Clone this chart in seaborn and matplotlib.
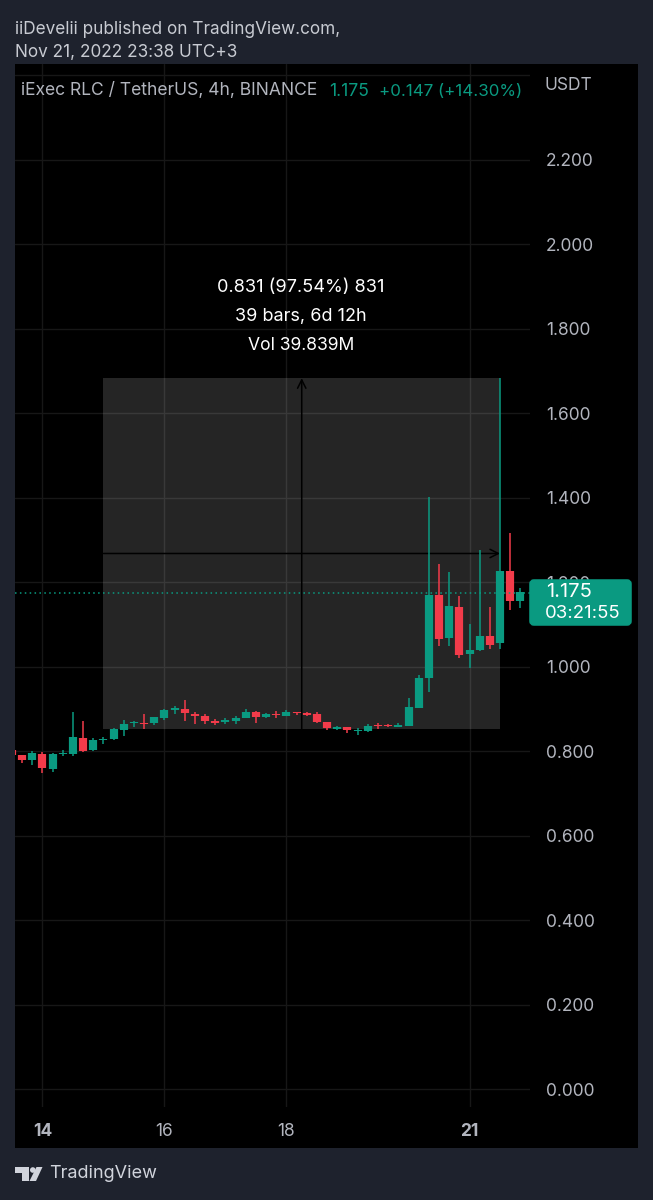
import pandas as pd
import matplotlib
matplotlib.use('Agg')
import matplotlib.pyplot as plt
from matplotlib.patches import Rectangle, FancyBboxPatch, Polygon, Circle
import seaborn as sns

# Candle values (4h bars)
open_ = [0.803, 0.790, 0.778, 0.793, 0.758, 0.793, 0.794, 0.831, 0.803, 0.826, 0.828, 0.849, 0.866,
         0.867, 0.866, 0.879, 0.898, 0.900, 0.889, 0.883, 0.872, 0.870, 0.871, 0.879, 0.892, 0.882,
         0.888, 0.884, 0.892, 0.890, 0.888, 0.869, 0.852, 0.856, 0.847, 0.848, 0.863, 0.863, 0.858,
         0.860, 0.903, 0.972, 1.170, 1.067, 1.142, 1.029, 1.039, 1.073, 1.056, 1.227, 1.156]
high = [0.805, 0.792, 0.801, 0.798, 0.796, 0.803, 0.892, 0.872, 0.830, 0.834, 0.855, 0.873, 0.872,
        0.889, 0.882, 0.899, 0.907, 0.920, 0.893, 0.888, 0.875, 0.879, 0.883, 0.899, 0.894, 0.891,
        0.894, 0.897, 0.893, 0.892, 0.892, 0.870, 0.860, 0.856, 0.854, 0.864, 0.867, 0.865, 0.867,
        0.925, 0.981, 1.401, 1.244, 1.225, 1.168, 1.101, 1.276, 1.141, 1.683, 1.316, 1.186]
low = [0.788, 0.772, 0.767, 0.749, 0.751, 0.788, 0.789, 0.798, 0.800, 0.816, 0.826, 0.837, 0.856,
       0.852, 0.861, 0.874, 0.889, 0.872, 0.864, 0.865, 0.862, 0.865, 0.864, 0.878, 0.866, 0.879,
       0.879, 0.883, 0.886, 0.884, 0.866, 0.849, 0.850, 0.844, 0.838, 0.846, 0.852, 0.856, 0.856,
       0.859, 0.902, 0.941, 1.050, 1.050, 1.021, 0.996, 1.038, 1.041, 1.041, 1.134, 1.138]
close = [0.790, 0.779, 0.795, 0.760, 0.794, 0.796, 0.834, 0.800, 0.827, 0.828, 0.852, 0.864, 0.869,
         0.865, 0.880, 0.897, 0.901, 0.890, 0.884, 0.872, 0.867, 0.873, 0.879, 0.893, 0.880, 0.888,
         0.885, 0.893, 0.890, 0.886, 0.870, 0.854, 0.856, 0.849, 0.851, 0.860, 0.860, 0.860, 0.862,
         0.904, 0.973, 1.170, 1.065, 1.144, 1.027, 1.039, 1.073, 1.052, 1.227, 1.156, 1.176]

y_ticks = [0.0, 0.2, 0.4, 0.6, 0.8, 1.0, 1.2, 1.4, 1.6, 1.8, 2.0, 2.2, 2.4]
y_labels = ['0.000', '0.200', '0.400', '0.600', '0.800', '1.000', '1.200', '1.400', '1.600',
            '1.800', '2.000', '2.200', '']
x_ticks = [3, 15, 27, 45]
x_labels = ['14', '16', '18', '21']
x_bold = ['14', '21']

last_price = 1.175
range_low, range_high = 0.852, 1.683
range_start, range_end = 9, 48
range_mid = 28.5
arrow_price = 1.268

BG = '#1e222d'
GREEN = '#0a9a81'
RED = '#f23b4a'
TXT = '#b2b5be'
W, H = 653, 1200

sns.set_theme(style='dark')
plt.rcParams['font.family'] = ['Inter', 'DejaVu Sans']

df = pd.DataFrame({'i': range(len(close)), 'open': open_, 'high': high, 'low': low, 'close': close})
df['dir'] = ['up' if c >= o else 'down' for o, c in zip(df['open'], df['close'])]
wicks = df.melt(id_vars=['i', 'dir'], value_vars=['high', 'low'], value_name='price')
bodies = df.melt(id_vars=['i', 'dir'], value_vars=['open', 'close'], value_name='price')
palette = {'up': GREEN, 'down': RED}

fig = plt.figure(figsize=(W / 100, H / 100), dpi=100, facecolor=BG)
fig.add_artist(Rectangle((15 / W, 1 - 1148 / H), 623 / W, 1084 / H, transform=fig.transFigure,
                         color='black', lw=0, zorder=-1))

# chart pane, limits worked out so the bars line up with the pixel grid of the original
ax = fig.add_axes([15 / W, 1 - 1107 / H, 515 / W, 1043 / H], facecolor='none')

ax.add_patch(Rectangle((range_start, range_low), range_end - range_start, range_high - range_low,
                       color='white', alpha=0.15, lw=0, zorder=1))
ax.annotate('', xy=(range_mid, range_high), xytext=(range_mid, range_low), zorder=2,
            arrowprops=dict(arrowstyle='->', color='black', lw=1.1, shrinkA=0, shrinkB=0, mutation_scale=15))
ax.annotate('', xy=(range_end, arrow_price), xytext=(range_start, arrow_price), zorder=2,
            arrowprops=dict(arrowstyle='->', color='black', lw=1.1, shrinkA=0, shrinkB=0, mutation_scale=15))

sns.lineplot(data=wicks, x='i', y='price', units='i', estimator=None, hue='dir', palette=palette,
             legend=False, linewidth=1.1, solid_capstyle='butt', zorder=3, ax=ax)
sns.lineplot(data=bodies, x='i', y='price', units='i', estimator=None, hue='dir', palette=palette,
             legend=False, linewidth=5.9, solid_capstyle='butt', zorder=4, ax=ax)
ax.axhline(last_price, color=GREEN, lw=1.1, ls=(0, (1, 2.2)), zorder=5)

ax.set_xlim(0.306, 50.945)
ax.set_ylim(-0.0426, 2.427)
ax.set_xlabel('')
ax.set_ylabel('')
for s in ax.spines.values():
    s.set_visible(False)

ax.yaxis.tick_right()
ax.set_yticks(y_ticks)
ax.set_yticklabels(y_labels)
ax.set_xticks(x_ticks)
ax.set_xticklabels(x_labels)
ax.tick_params(axis='y', length=0, pad=11.5, labelsize=12.5, labelcolor=TXT)
ax.tick_params(axis='x', length=0, pad=11.5, labelsize=12.5, labelcolor=TXT)
for t in ax.get_xticklabels():
    if t.get_text() in x_bold:
        t.set_fontweight('bold')
ax.grid(True, color='#171717', lw=1.0)
ax.set_axisbelow(True)

# overlay in pixel coordinates for header, box, logo
ov = fig.add_axes([0, 0, 1, 1], facecolor='none', zorder=5)
ov.set_xlim(0, W)
ov.set_ylim(H, 0)
ov.axis('off')

ov.text(15, 29, 'iiDevelii published on TradingView.com,', color='#c8cbd2', fontsize=12.35, va='center')
ov.text(15, 53, 'Nov 21, 2022 23:38 UTC+3', color='#c8cbd2', fontsize=12.35, va='center')
ov.text(21, 91, 'iExec RLC / TetherUS, 4h, BINANCE', color=TXT, fontsize=12.6, va='center')
ov.text(329, 91, '1.175', color=GREEN, fontsize=12.6, va='center')
ov.text(379, 91, '+0.147 (+14.30%)', color=GREEN, fontsize=12.2, va='center')
ov.text(545, 85, 'USDT', color=TXT, fontsize=12.5, va='center')

ov.text(301, 288, '0.831 (97.54%) 831', color='white', fontsize=13.1, ha='center', va='center')
ov.text(301, 317, '39 bars, 6d 12h', color='white', fontsize=13, ha='center', va='center')
ov.text(301, 346, 'Vol 39.839M', color='white', fontsize=12.6, ha='center', va='center')

ov.add_patch(FancyBboxPatch((532, 582), 97, 41, boxstyle='round,pad=0,rounding_size=2', mutation_aspect=1,
                            fc=GREEN, ec=GREEN, lw=4))
ov.text(546, 592, '1.175', color='white', fontsize=14.5, va='center')
ov.text(545, 614, '03:21:55', color='white', fontsize=13.4, va='center')

# TradingView logo
ov.add_patch(Polygon([(15, 1167), (29, 1167), (29, 1181), (22, 1181), (22, 1173), (15, 1173)], fc='#d1d4dc', lw=0))
ov.add_patch(Circle((32.8, 1170), 2.8, fc='#d1d4dc', lw=0))
ov.add_patch(Polygon([(36.5, 1167), (42.5, 1167), (36, 1181), (29.5, 1181)], fc='#d1d4dc', lw=0))
ov.text(49, 1174, 'TradingView', color='#d1d4dc', fontsize=13, va='center')

fig.savefig('out.png', dpi=100, facecolor=BG)
